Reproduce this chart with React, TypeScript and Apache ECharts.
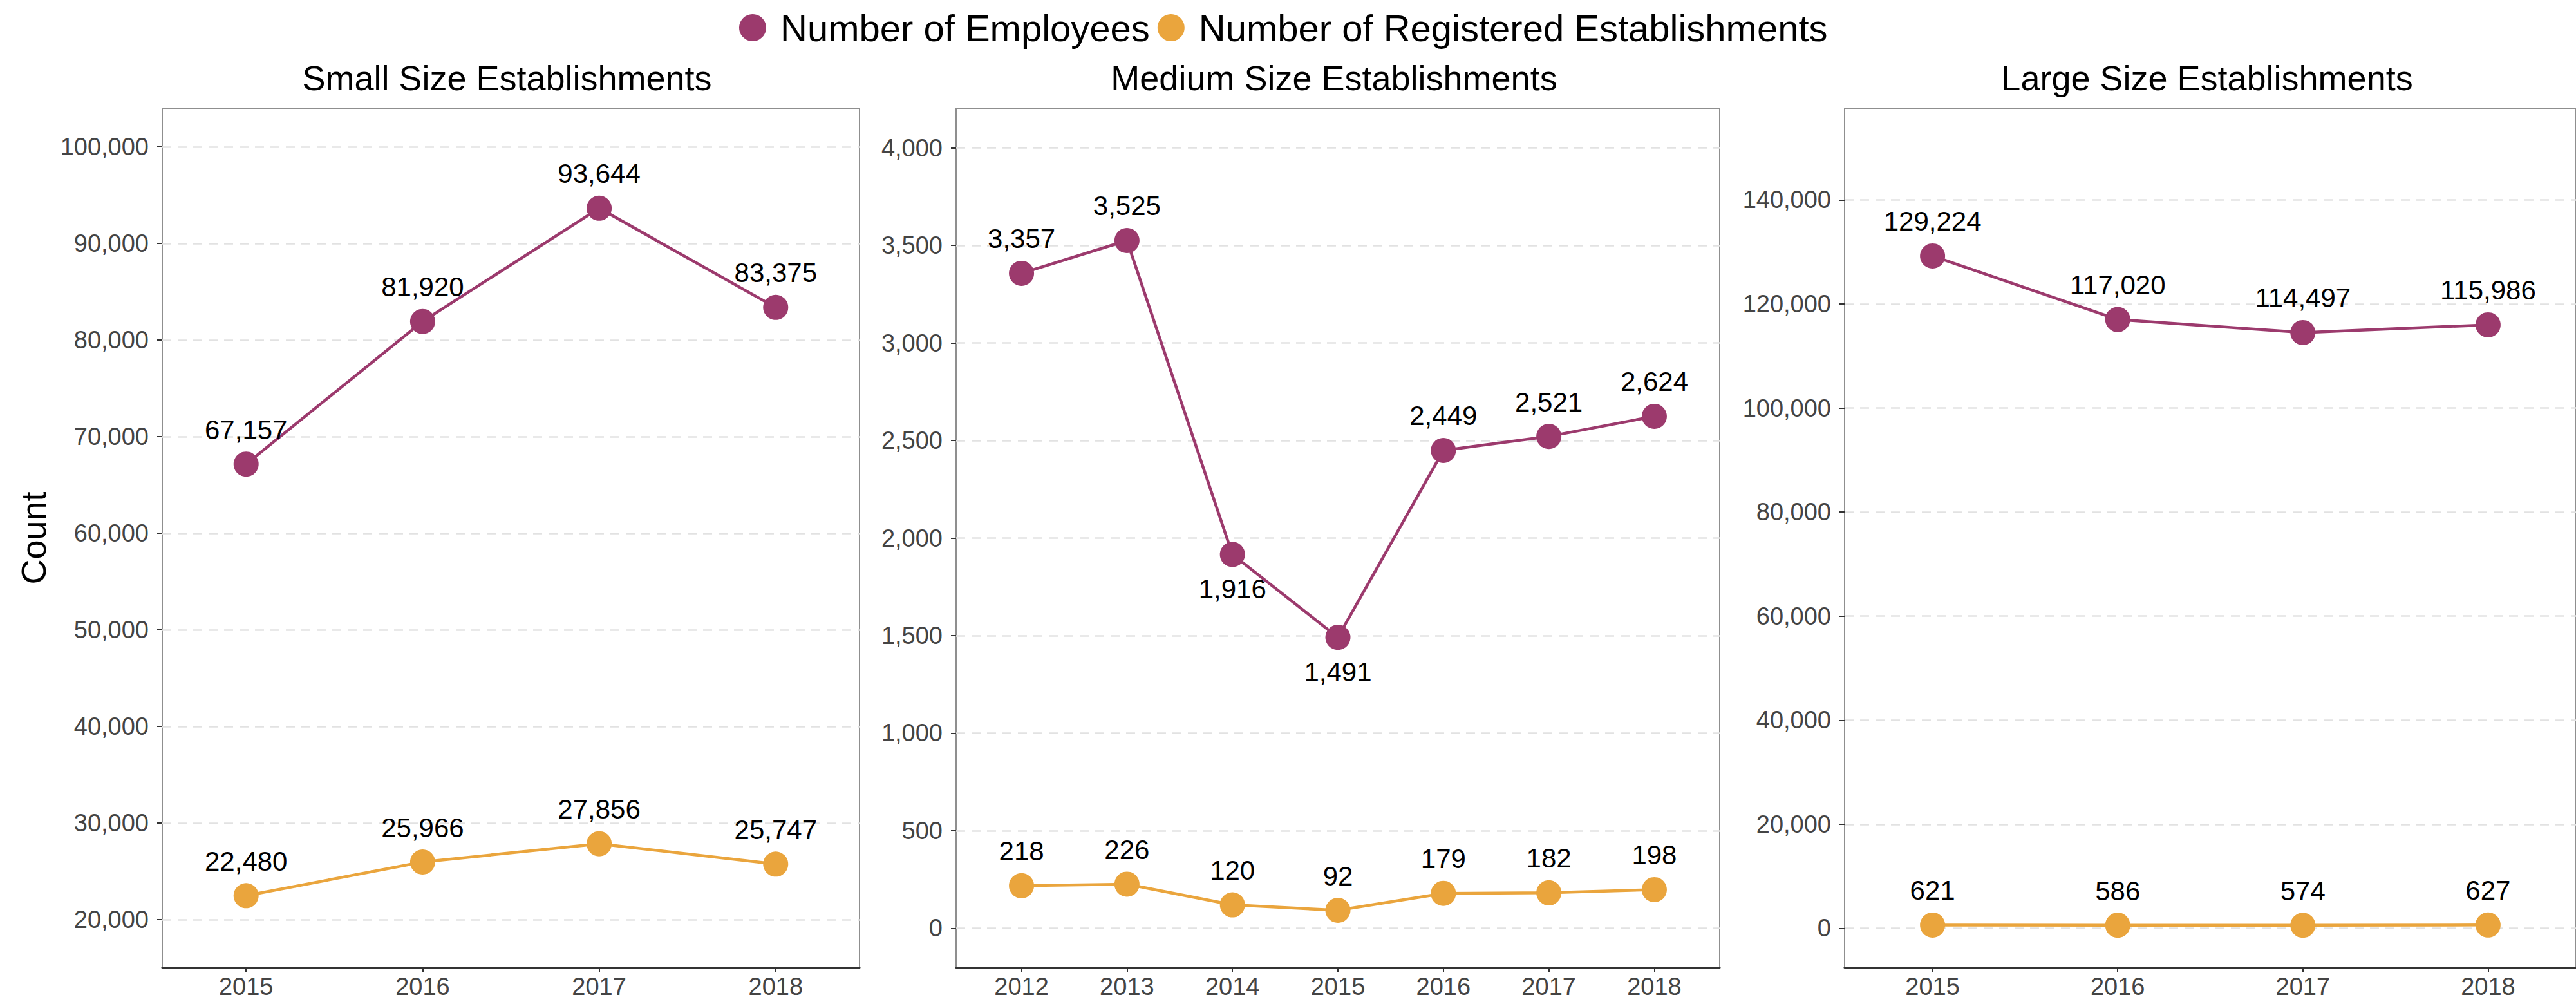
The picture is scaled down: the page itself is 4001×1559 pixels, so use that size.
import React, { useEffect, useRef } from 'react';
import * as echarts from 'echarts';

const SERIES_EMP = 'Number of Employees';
const SERIES_EST = 'Number of Registered Establishments';

const smallYears = [2015, 2016, 2017, 2018];
const smallEmployees = [67157, 81920, 93644, 83375];
const smallEstablishments = [22480, 25966, 27856, 25747];

const mediumYears = [2012, 2013, 2014, 2015, 2016, 2017, 2018];
const mediumEmployees = [3357, 3525, 1916, 1491, 2449, 2521, 2624];
const mediumEstablishments = [218, 226, 120, 92, 179, 182, 198];

const largeYears = [2015, 2016, 2017, 2018];
const largeEmployees = [129224, 117020, 114497, 115986];
const largeEstablishments = [621, 586, 574, 627];

const smallYTicks = [20000, 30000, 40000, 50000, 60000, 70000, 80000, 90000, 100000];
const mediumYTicks = [0, 500, 1000, 1500, 2000, 2500, 3000, 3500, 4000];
const largeYTicks = [0, 20000, 40000, 60000, 80000, 100000, 120000, 140000];

const panelTitles = ['Small Size Establishments', 'Medium Size Establishments', 'Large Size Establishments'];
// employee labels drawn under the point in the medium panel
const mediumEmpLabelBelow = [2014, 2015];

const PURPLE = '#9C3A6D';
const ORANGE = '#EAA53D';
const FONT = "'Liberation Sans', Arial, Helvetica, sans-serif";

const fmt = (v: number) => Number(v).toLocaleString('en-US');

interface Panel {
  title: string;
  years: number[];
  emp: number[];
  est: number[];
  yTicks: number[];
  yMin: number;
  yMax: number;
  xMin: number;
  xMax: number;
  below: number[];
  grid: { left: number; top: number; width: number; height: number };
}

const panels: Panel[] = [
  {
    title: panelTitles[0], years: smallYears, emp: smallEmployees, est: smallEstablishments,
    yTicks: smallYTicks, yMin: 15067, yMax: 103933, xMin: 2014.525, xMax: 2018.475, below: [],
    grid: { left: 252, top: 169, width: 1083, height: 1333 },
  },
  {
    title: panelTitles[1], years: mediumYears, emp: mediumEmployees, est: mediumEstablishments,
    yTicks: mediumYTicks, yMin: -200, yMax: 4200, xMin: 2011.38, xMax: 2018.62, below: mediumEmpLabelBelow,
    grid: { left: 1485, top: 169, width: 1186, height: 1333 },
  },
  {
    title: panelTitles[2], years: largeYears, emp: largeEmployees, est: largeEstablishments,
    yTicks: largeYTicks, yMin: -7500, yMax: 157500, xMin: 2014.525, xMax: 2018.475, below: [],
    grid: { left: 2865, top: 169, width: 1138, height: 1333 },
  },
];

function buildOption() {
  const grid: any[] = [];
  const xAxis: any[] = [];
  const yAxis: any[] = [];
  const series: any[] = [];
  const title: any[] = [];

  panels.forEach((p, i) => {
    grid.push({
      left: p.grid.left, top: p.grid.top, width: p.grid.width, height: p.grid.height,
      show: true, borderColor: '#8f8f8f', borderWidth: 2, backgroundColor: 'transparent',
      containLabel: false,
    });
    title.push({
      text: p.title,
      left: p.grid.left + p.grid.width / 2 - 6,
      top: 94,
      textAlign: 'center',
      padding: 0,
      textStyle: { fontSize: 54, fontWeight: 'normal', color: '#000', fontFamily: FONT },
    });
    xAxis.push({
      gridIndex: i, type: 'value', min: p.xMin, max: p.xMax, position: 'bottom',
      axisLine: { show: true, onZero: false, lineStyle: { color: '#333', width: 3 } },
      axisTick: { show: true, length: 8, customValues: p.years, lineStyle: { color: '#333', width: 2 } },
      axisLabel: {
        customValues: p.years, margin: 11, fontSize: 38, color: '#444', fontFamily: FONT,
        formatter: (v: number) => String(v),
      },
      splitLine: { show: false },
    });
    yAxis.push({
      gridIndex: i, type: 'value', min: p.yMin, max: p.yMax,
      axisLine: { show: false, onZero: false },
      axisTick: { show: true, length: 8, customValues: p.yTicks, lineStyle: { color: '#333', width: 2 } },
      axisLabel: {
        customValues: p.yTicks, margin: 21, fontSize: 38, color: '#444', fontFamily: FONT,
        formatter: (v: number) => fmt(v),
      },
      splitLine: { show: true, lineStyle: { color: '#e2e2e2', width: 2.5, type: [14, 10] } },
      ...(i === 0
        ? {
            name: 'Count', nameLocation: 'middle', nameGap: 173,
            nameTextStyle: { fontSize: 54, color: '#000', fontFamily: FONT },
          }
        : {}),
    });

    const labelBase = {
      show: true, position: 'top', distance: 13, fontSize: 42, color: '#000', fontFamily: FONT,
      formatter: (params: any) => fmt(params.value[1]),
    };

    series.push({
      type: 'line', name: SERIES_EMP, xAxisIndex: i, yAxisIndex: i,
      data: p.years.map((y, k) =>
        p.below.includes(y)
          ? { value: [y, p.emp[k]], label: { position: 'bottom' } }
          : { value: [y, p.emp[k]] }
      ),
      symbol: 'circle', symbolSize: 39, showSymbol: true,
      lineStyle: { color: PURPLE, width: 4.5 },
      itemStyle: { color: PURPLE },
      label: labelBase,
      emphasis: { disabled: true },
      z: 3,
    });
    series.push({
      type: 'line', name: SERIES_EST, xAxisIndex: i, yAxisIndex: i,
      data: p.years.map((y, k) => ({ value: [y, p.est[k]] })),
      symbol: 'circle', symbolSize: 39, showSymbol: true,
      lineStyle: { color: ORANGE, width: 4.5 },
      itemStyle: { color: ORANGE },
      label: labelBase,
      emphasis: { disabled: true },
      z: 3,
    });
  });

  return {
    animation: false,
    backgroundColor: '#ffffff',
    textStyle: { fontFamily: FONT },
    title,
    legend: {
      data: [SERIES_EMP, SERIES_EST],
      left: 1148, top: 14, padding: 0,
      itemWidth: 76, itemHeight: 42, itemGap: 12,
      icon: 'circle', selectedMode: false,
      textStyle: { fontSize: 58, color: '#000', fontFamily: FONT },
    },
    grid, xAxis, yAxis, series,
  };
}

export default function App() {
  const ref = useRef<HTMLDivElement>(null);
  useEffect(() => {
    document.body.style.margin = '0';
    if (!ref.current) return;
    const chart = echarts.init(ref.current, null, { renderer: 'svg' });
    chart.setOption(buildOption() as any);
    return () => chart.dispose();
  }, []);
  return <div ref={ref} style={{ width: 4001, height: 1559 }} />;
}
